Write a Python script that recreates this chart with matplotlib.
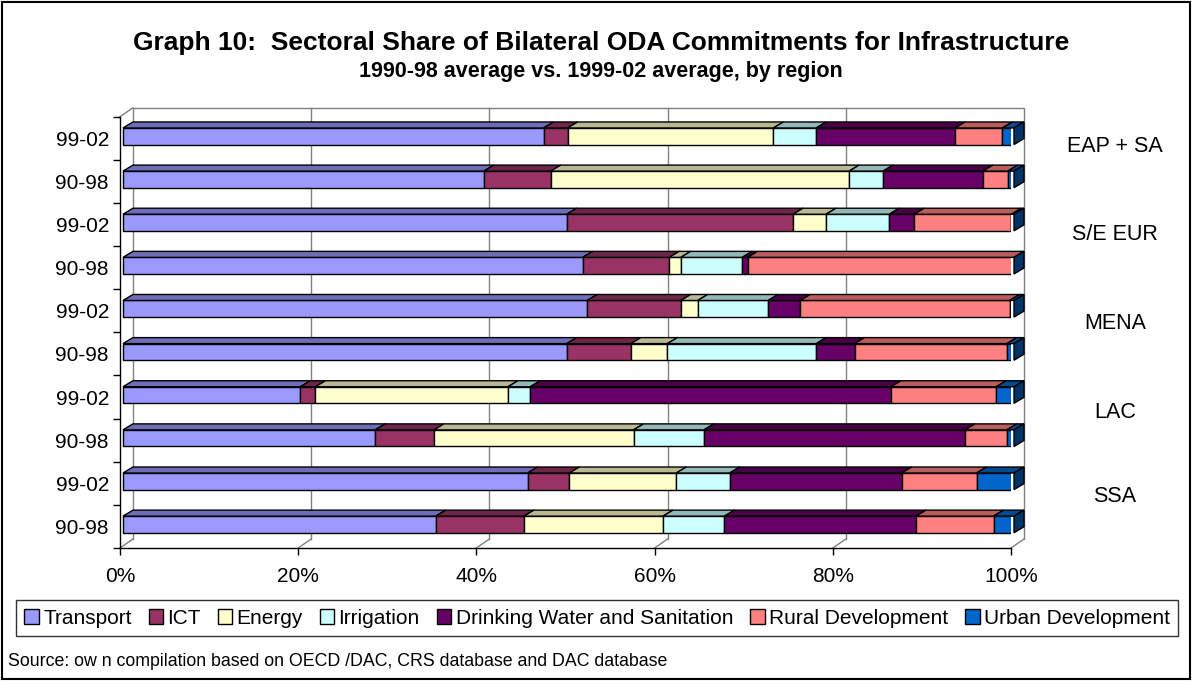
import matplotlib
matplotlib.use("Agg")
import matplotlib.pyplot as plt
from matplotlib.patches import Polygon, Patch, Rectangle
from matplotlib.transforms import ScaledTranslation
from matplotlib.colors import to_rgb

# rows listed bottom-to-top as they appear on the axis
periods = ["90-98", "99-02"] * 5
regions = ["SSA", "LAC", "MENA", "S/E EUR", "EAP + SA"]
sectors = ["Transport", "ICT", "Energy", "Irrigation",
           "Drinking Water and Sanitation", "Rural Development",
           "Urban Development"]

transport  = [35.1, 45.4, 28.3, 19.9, 49.8, 52.1, 51.6, 49.8, 40.5, 47.2]
ict        = [9.9, 4.7, 6.6, 1.7, 7.2, 10.5, 9.7, 25.4, 7.5, 2.7]
energy     = [15.6, 12.0, 22.4, 21.6, 4.1, 1.9, 1.3, 3.7, 33.5, 23.1]
irrigation = [6.9, 6.0, 7.9, 2.5, 16.7, 7.9, 6.9, 7.1, 3.8, 4.8]
water      = [21.5, 19.3, 29.3, 40.5, 4.3, 3.6, 0.6, 2.8, 11.2, 15.6]
rural      = [8.7, 8.4, 4.7, 11.8, 17.1, 23.5, 29.9, 10.9, 2.8, 5.3]
urban      = [2.3, 4.2, 0.8, 2.0, 0.8, 0.5, 0.0, 0.3, 0.7, 1.3]

series = [transport, ict, energy, irrigation, water, rural, urban]
colors = ["#9999FF", "#993366", "#FFFFCC", "#CCFFFF",
          "#660066", "#FF8080", "#0066CC"]

plt.rcParams["font.family"] = ["Liberation Sans", "DejaVu Sans"]

W, H, DPI = 1192, 681, 100
fig = plt.figure(figsize=(W / DPI, H / DPI), dpi=DPI)

# front plane of the plot, in pixels
x0, x1 = 120, 1011
y_top, y_bot = 116.7, 548
ax = fig.add_axes([x0 / W, (H - y_bot) / H, (x1 - x0) / W, (y_bot - y_top) / H])
ax.set_xlim(0, 100)
ax.set_ylim(-0.5, 9.5)
ux = 100 / (x1 - x0)        # data units per pixel
uy = 10 / (y_bot - y_top)

def shifted(dx, dy):
    return ax.transData + ScaledTranslation(dx / DPI, dy / DPI, fig.dpi_scale_trans)

def shade(c, f):
    r, g, b = to_rgb(c)
    return (r * f, g * f, b * f)

# ---------------------------------------------------- walls / floor
wall = shifted(13, 9)
ax.plot([0, 0, 100, 100], [-0.5, 9.5, 9.5, -0.5], color="#808080",
        lw=1.0, transform=wall, clip_on=False, zorder=0)
for v in [20, 40, 60, 80]:
    ax.plot([v, v], [-0.5, 9.5], color="#808080", lw=1.0,
            transform=wall, clip_on=False, zorder=0)
for v in [0, 20, 40, 60, 80, 100]:
    ax.plot([v, v + 13 * ux], [-0.5, -0.5 + 9 * uy], color="#808080",
            lw=1.0, clip_on=False, zorder=0)
ax.plot([0, 13 * ux], [9.5, 9.5 + 9 * uy], color="#808080", lw=1.0,
        clip_on=False, zorder=0)

# ---------------------------------------------------- 3-D stacked bars
bar_t = shifted(3, 2)
bh = 16.6 * uy
ddx, ddy = 10 * ux, 6 * uy
rows = range(len(periods))
left = [0.0] * len(periods)
for vals, col in zip(series, colors):
    ax.barh(list(rows), vals, left=left, height=bh, color=col,
            edgecolor="black", lw=1.0, transform=bar_t, zorder=3)
    for i in rows:
        l, r = left[i], left[i] + vals[i]
        yt = i + bh / 2
        if vals[i] > 0:
            ax.add_patch(Polygon([(l, yt), (r, yt), (r + ddx, yt + ddy),
                                  (l + ddx, yt + ddy)], closed=True,
                                 facecolor=shade(col, 0.72), edgecolor="black",
                                 lw=1.0, transform=bar_t, clip_on=False, zorder=3))
    left = [a + b for a, b in zip(left, vals)]

# end caps on the right-hand side of each bar
for i in rows:
    r = left[i]
    yt, yb = i + bh / 2, i - bh / 2
    ax.add_patch(Polygon([(r, yb), (r, yt), (r + ddx, yt + ddy), (r + ddx, yb + ddy)],
                         closed=True, facecolor=shade(colors[-1], 0.5),
                         edgecolor="black", lw=1.0, transform=bar_t,
                         clip_on=False, zorder=4))

# ---------------------------------------------------- axes styling
for s in ["top", "right"]:
    ax.spines[s].set_visible(False)
for s in ["left", "bottom"]:
    ax.spines[s].set_color("black")
    ax.spines[s].set_linewidth(1.0)
ax.set_xticks([0, 20, 40, 60, 80, 100])
ax.set_xticklabels([f"{v}%" for v in [0, 20, 40, 60, 80, 100]], fontsize=15)
ax.tick_params(axis="x", length=5, width=1, pad=9)
ax.set_yticks(list(rows))
ax.set_yticklabels(periods, fontsize=15)
ax.set_yticks([i - 0.5 for i in range(len(periods) + 1)], minor=True)
ax.tick_params(axis="y", which="major", length=0, pad=8)
ax.tick_params(axis="y", which="minor", length=5, width=1)
ax.set_facecolor("none")

# region names to the right of each pair of bars
for name, yp in zip(regions, [497, 412, 324, 235, 146]):
    fig.text(1115 / W, 1 - yp / H, name, ha="center", va="center", fontsize=15.5)

fig.text(601 / W, 1 - 43 / H,
         "Graph 10:  Sectoral Share of Bilateral ODA Commitments for Infrastructure",
         ha="center", va="center", fontsize=19, fontweight="bold")
fig.text(601 / W, 1 - 72 / H, "1990-98 average vs. 1999-02 average, by region",
         ha="center", va="center", fontsize=15.5, fontweight="bold")

handles = [Patch(facecolor=c, edgecolor="black", lw=1.0) for c in colors]
fig.legend(handles, sectors, loc="lower left", ncol=7, mode="expand",
           bbox_to_anchor=(16 / W, (H - 636) / H, (1178 - 16) / W, 40 / H),
           borderaxespad=0, fontsize=15, frameon=True, fancybox=False,
           edgecolor="black", handlelength=0.7, handleheight=0.7,
           handletextpad=0.2, columnspacing=0.5, borderpad=0.4)
fig.legends[0].get_frame().set_linewidth(1.0)

fig.text(8 / W, 1 - 662 / H,
         "Source: ow n compilation based on OECD /DAC, CRS database and DAC database",
         ha="left", va="center", fontsize=12.75)

fig.add_artist(Rectangle((2 / W, 2 / H), (W - 4) / W, (H - 4) / H,
                         transform=fig.transFigure, fill=False,
                         edgecolor="black", lw=1.5))

fig.savefig("out.png", dpi=DPI)
